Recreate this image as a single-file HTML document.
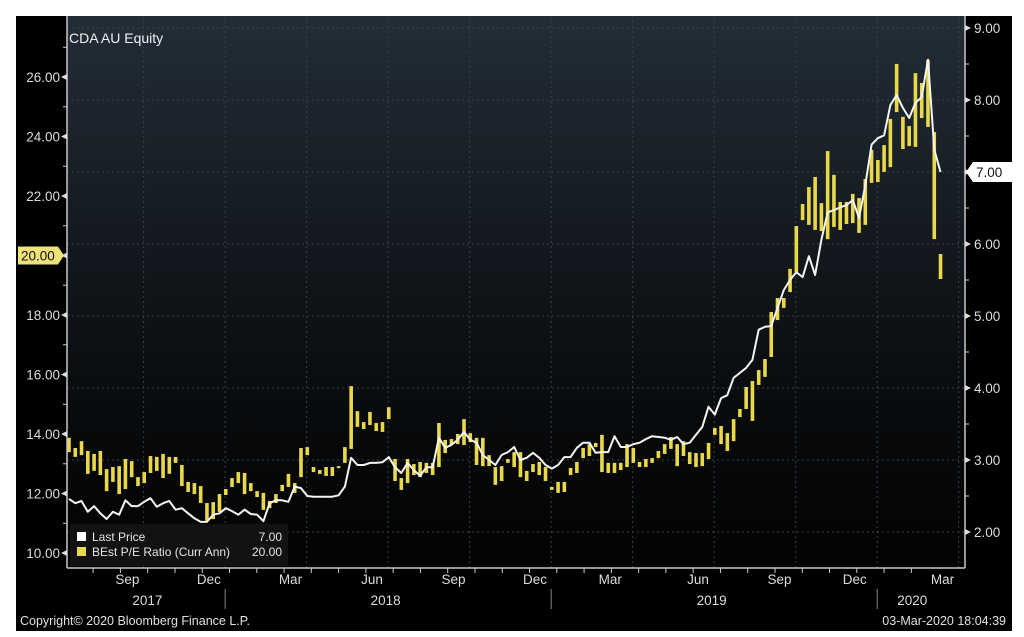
<!DOCTYPE html>
<html><head><meta charset="utf-8"><style>
html,body{margin:0;padding:0;background:#fff;}
svg{display:block;font-family:"Liberation Sans",sans-serif;}
</style></head><body>
<svg id="chart" width="1024" height="637" viewBox="0 0 1024 637">
<defs>
<linearGradient id="bg" x1="0" y1="0" x2="0" y2="1">
<stop offset="0" stop-color="#222d38"/>
<stop offset="0.45" stop-color="#12171c"/>
<stop offset="0.75" stop-color="#07090b"/>
<stop offset="1" stop-color="#030303"/>
</linearGradient>
</defs>
<rect x="16" y="16" width="996" height="615" fill="#000"/>
<rect x="67" y="16" width="898" height="552" fill="url(#bg)"/>
<g id="grid"></g>
<g id="bars"></g>
<g id="line"></g>
<g id="axes"></g>
<text x="69" y="43" fill="#f0f0f0" font-size="14">CDA AU Equity</text>
<g>
<rect x="70" y="524" width="218" height="42" fill="#141414" opacity="0.9"/>
<rect x="77" y="532" width="9" height="9" fill="#fff"/>
<text x="92" y="541" fill="#e6e6e6" font-size="12">Last Price</text>
<text x="282" y="541" fill="#e6e6e6" font-size="12" text-anchor="end">7.00</text>
<rect x="77" y="547" width="9" height="9" fill="#e8d84a"/>
<text x="92" y="556" fill="#e6e6e6" font-size="12">BEst P/E Ratio (Curr Ann)</text>
<text x="282" y="556" fill="#e6e6e6" font-size="12" text-anchor="end">20.00</text>
</g>
<text x="20" y="625" fill="#e0e0e0" font-size="12.5">Copyright© 2020 Bloomberg Finance L.P.</text>
<text x="1006" y="625" fill="#e0e0e0" font-size="12.5" text-anchor="end">03-Mar-2020 18:04:39</text>
</svg>
<script>
const priceValues=[2.46,2.40,2.43,2.28,2.36,2.26,2.18,2.28,2.24,2.44,2.36,2.36,2.42,2.47,2.35,2.40,2.43,2.31,2.33,2.26,2.19,2.14,2.14,2.24,2.26,2.33,2.29,2.24,2.31,2.25,2.24,2.15,2.40,2.44,2.44,2.42,2.63,2.61,2.50,2.49,
2.49,2.49,2.49,2.51,2.63,3.03,2.93,2.93,2.96,2.96,2.97,3.04,2.90,2.82,2.96,2.86,2.78,2.90,2.90,3.31,3.17,3.21,3.28,3.39,3.28,3.24,3.07,3.00,2.93,3.07,3.11,3.18,3.00,3.03,3.10,3.03,2.93,2.88,
2.93,3.04,3.04,3.17,3.24,3.24,3.10,3.11,3.11,3.33,3.18,3.18,3.22,3.24,3.29,3.33,3.32,3.31,3.28,3.32,3.22,3.24,3.35,3.46,3.74,3.63,3.86,3.90,4.14,4.21,4.28,4.39,4.81,4.85,4.86,5.11,5.36,5.50,
5.61,5.54,5.83,5.57,6.06,6.44,6.47,6.51,6.54,6.61,6.36,6.82,7.38,7.47,7.51,7.93,8.07,7.89,7.75,7.96,8.04,8.56,7.31,7.00];
const peHigh=[13.87,13.53,13.76,13.43,13.33,13.43,12.82,12.89,12.92,13.16,13.09,12.55,12.72,13.26,13.23,13.33,13.23,13.23,12.96,12.39,12.35,12.25,11.68,11.71,11.98,12.15,12.52,12.72,12.69,12.35,12.08,12.02,11.75,11.98,12.29,12.66,12.35,13.53,13.56,12.89,
12.79,12.89,12.89,12.92,13.56,15.61,14.77,14.40,14.74,14.37,14.40,14.90,13.16,12.52,13.16,12.99,13.06,13.03,13.03,14.37,13.80,13.83,14.00,14.50,14.03,13.87,13.87,13.29,12.89,12.92,13.16,13.39,13.39,12.76,12.99,13.06,12.89,12.22,12.39,12.39,
12.86,13.06,13.53,13.66,13.70,13.97,13.03,13.03,13.03,13.66,13.53,13.06,13.16,13.19,13.43,13.66,13.90,13.66,13.76,13.39,13.36,13.36,13.70,14.20,14.27,14.03,14.50,14.84,15.58,15.78,16.15,16.52,18.10,18.57,18.57,19.55,
20.99,21.73,22.30,22.64,21.76,23.51,22.71,21.80,21.80,22.07,21.93,22.57,23.55,23.21,23.71,24.59,26.44,24.66,24.35,26.13,25.80,26.57,24.15,20.05];
const peLow=[13.39,13.23,13.29,12.66,12.76,12.62,12.08,12.39,11.98,12.15,12.55,12.25,12.35,12.69,12.76,12.52,12.66,13.03,12.25,12.05,11.98,11.68,11.08,11.14,11.38,11.95,12.22,12.35,11.98,12.08,11.88,11.45,11.51,11.68,12.08,12.22,12.02,12.55,13.29,12.72,
12.66,12.59,12.59,12.86,13.03,13.50,14.24,14.17,14.30,14.10,14.07,14.50,12.42,12.12,12.35,12.62,12.55,12.69,12.62,12.89,13.36,13.63,13.66,13.63,13.73,12.96,12.92,12.92,12.29,12.42,13.03,12.89,12.55,12.42,12.72,12.62,12.42,12.12,12.02,12.05,
12.62,12.69,13.19,13.26,13.56,12.72,12.69,12.69,12.79,12.89,13.03,12.89,12.89,13.03,13.19,13.33,13.50,12.92,13.26,12.99,12.89,12.92,13.16,13.97,13.66,13.43,13.76,14.57,14.84,14.44,15.65,15.92,16.59,17.83,18.24,18.77,
19.45,21.19,21.03,20.86,20.82,20.55,20.96,20.86,21.06,21.09,20.76,21.03,22.44,22.47,22.81,22.97,24.82,23.58,23.68,23.65,24.62,24.32,20.55,19.21];
const leftTicks=[10,12,14,16,18,20,22,24,26];
const rightTicks=[2,3,4,5,6,7,8,9];
const monthLabels=["Sep","Dec","Mar","Jun","Sep","Dec","Mar","Jun","Sep","Dec","Mar"];
const monthWeek=[9,22,35,48,61,74,86,100,113,125,139];
const yearLabels=["2017","2018","2019","2020"];
const yearWeek=[12.5,50.5,102.5,134.5];
const yearDividerWeek=[24.9,76.9,128.9];

const NS="http://www.w3.org/2000/svg";
const X0=69,DX=6.27,PL=67,PR=965,PT=16,PB=568;
function xS(i){return X0+i*DX;}
function yL(v){return 77+(26-v)*29.75;}
function yR(v){return 28+(9-v)*72;}
function mk(tag,attrs,parent){const e=document.createElementNS(NS,tag);for(const k in attrs)e.setAttribute(k,attrs[k]);parent.appendChild(e);return e;}
const grid=document.getElementById('grid'),bars=document.getElementById('bars'),line=document.getElementById('line'),axes=document.getElementById('axes');

rightTicks.forEach(v=>{const y=yR(v);if(y>PT+2&&y<PB-2){
const g=mk('line',{x1:PL,x2:PR,y1:y,y2:y,stroke:'#3a3f45','stroke-width':1,'stroke-dasharray':'2,3'},grid);

}});
for(let q=0;q<11;q++){const x=xS(11.9+q*13);if(x<PR-2){
const g=mk('line',{x1:x,x2:x,y1:PT,y2:PB,stroke:'#3a3f45','stroke-width':1,'stroke-dasharray':'2,3'},grid);

}}

peHigh.forEach((h,i)=>{const l=peLow[i];const y1=yL(h),y2=yL(l);
const b=mk('rect',{x:xS(i)-1.8,y:y1,width:3.6,height:Math.max(2,y2-y1),fill:'#e8d84a'},bars);

});

const pts=priceValues.map((v,i)=>xS(i).toFixed(1)+','+yR(v).toFixed(1)).join(' ');
const pl=mk('polyline',{points:pts,fill:'none',stroke:'#f4f4f4','stroke-width':2,'stroke-linejoin':'round'},line);



const ax=[[PL,PT,PL,PB],[PL,PB,PR,PB],[PR,PT,PR,PB]];
ax.forEach(a=>{const e=mk('line',{x1:a[0],y1:a[1],x2:a[2],y2:a[3],stroke:'#c8c8c8','stroke-width':1.5},axes);

});

leftTicks.forEach(v=>{const y=yL(v);
const m=mk('path',{d:`M${PL} ${y-3}L${PL-6} ${y}L${PL} ${y+3}Z`,fill:'#ddd'},axes);


const mm=mk('line',{x1:PL-4,x2:PL,y1:yL(v+1),y2:yL(v+1),stroke:'#ccc'},axes);


if(v===20)return;
const t=mk('text',{x:PL-7,y:y+5,fill:'#dcdcdc','font-size':13.5,'text-anchor':'end'},axes);
t.textContent=v.toFixed(2);

});
rightTicks.forEach(v=>{const y=yR(v);
const m=mk('path',{d:`M${PR} ${y-3}L${PR+6} ${y}L${PR} ${y+3}Z`,fill:'#ddd'},axes);


if(v>2){const mm=mk('line',{x1:PR,x2:PR+4,y1:yR(v-0.5),y2:yR(v-0.5),stroke:'#ccc'},axes);

}
if(v===7)return;
const t=mk('text',{x:PR+9,y:y+5,fill:'#dcdcdc','font-size':13.5},axes);
t.textContent=v.toFixed(2);

});

(function(){const y=yL(20);
const b=mk('path',{d:`M18 ${y-9}H58L64 ${y}L58 ${y+9}H18Z`,fill:'#f0e27a'},axes);


const t=mk('text',{x:21,y:y+5,fill:'#111','font-size':13.5},axes);t.textContent='20.00';


const yr=yR(priceValues[priceValues.length-1]);
const b2=mk('path',{d:`M966 ${yr}L973 ${yr-10}H1012V${yr+10}H973Z`,fill:'#fff'},axes);


const t2=mk('text',{x:976,y:yr+5,fill:'#111','font-size':13.5},axes);t2.textContent=priceValues[priceValues.length-1].toFixed(2);

})();

for(let m=0;m<32;m++){const x=xS(-0.5+m*4.35);if(x>PL&&x<PR){
const t=mk('line',{x1:x,x2:x,y1:PB,y2:PB+5,stroke:'#ccc'},axes);

}}
monthLabels.forEach((s,k)=>{const t=mk('text',{x:xS(monthWeek[k])+2,y:584,fill:'#dcdcdc','font-size':13.5,'text-anchor':'middle'},axes);
t.textContent=s;

});
yearLabels.forEach((s,k)=>{const t=mk('text',{x:xS(yearWeek[k]),y:605,fill:'#dcdcdc','font-size':13.5,'text-anchor':'middle'},axes);
t.textContent=s;

});
yearDividerWeek.forEach(w=>{const d=mk('line',{x1:xS(w),x2:xS(w),y1:589,y2:609,stroke:'#888'},axes);

});
</script>
</body></html>
